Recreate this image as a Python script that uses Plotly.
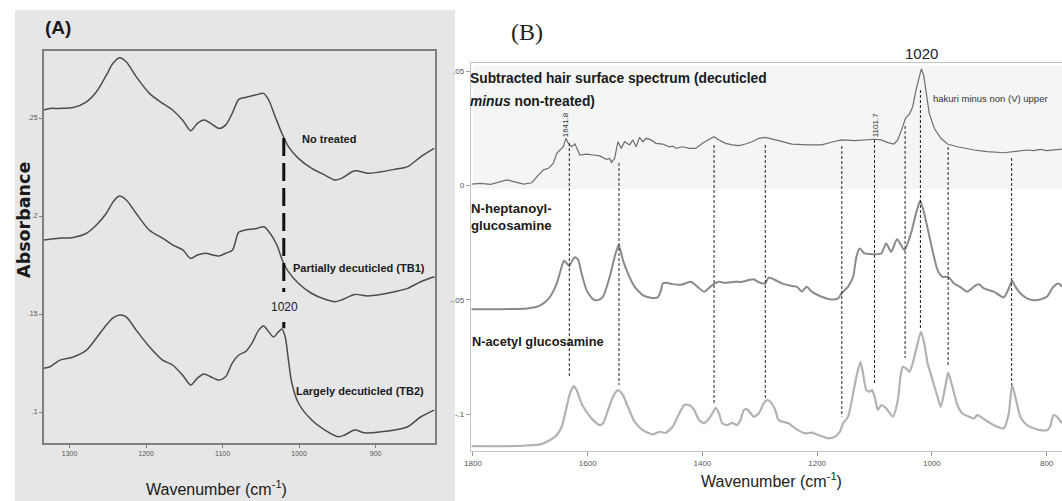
import plotly.graph_objects as go

W, H = 1062, 501

# ---------------- Panel A data (wavenumber, absorbance) ----------------
a_wn_1 = [1334, 1325.5, 1312.6, 1295.2, 1277.9, 1264.9, 1251.9, 1243.3, 1234.6, 1226.0, 1213.0, 1195.7,
          1178.4, 1165.4, 1152.4, 1141.6, 1132.9, 1124.2, 1115.6, 1104.8, 1096.1, 1087.4, 1078.8, 1070.1,
          1057.1, 1046.3, 1039.8, 1031.2, 1022.5, 1013.9, 1000.9, 983.5, 966.2, 953.2, 944.6, 927.3,
          910.0, 892.6, 875.3, 858.0, 840.7, 823.4]
a_abs_1 = [.2541, .2549, .2549, .2554, .2583, .2634, .2719, .2779, .2808, .2787, .2711, .2626,
           .2575, .2541, .2490, .2435, .2473, .2490, .2473, .2447, .2464, .2524, .2595, .2605,
           .2617, .2626, .2592, .2507, .2422, .2354, .2294, .2243, .2209, .2184, .2192, .2231,
           .2218, .2226, .2238, .2252, .2303, .2345]

a_wn_2 = [1334, 1317, 1295, 1278, 1265, 1252, 1243, 1235, 1226, 1213, 1196, 1178, 1165, 1152, 1142,
          1133, 1122, 1113, 1105, 1096, 1087, 1079, 1070, 1057, 1046, 1038, 1029, 1022, 1014, 1001,
          984, 966, 953, 945, 927, 910, 893, 875, 858, 841, 823]
a_abs_2 = [.1878, .1886, .1891, .1912, .1954, .2014, .2073, .2102, .2082, .2014, .1929, .1886, .1852,
           .1827, .1784, .1801, .1810, .1801, .1796, .1810, .1827, .1917, .1929, .1935, .1945, .1912,
           .1852, .1776, .1716, .1657, .1606, .1575, .1563, .1571, .1600, .1592, .1600, .1614, .1631,
           .1665, .1690]

a_wn_3 = [1334, 1325.5, 1312.6, 1295.2, 1277.9, 1264.9, 1251.9, 1243.3, 1234.6, 1226.0, 1213.0, 1195.7,
          1178.4, 1165.4, 1152.4, 1141.6, 1132.9, 1124.2, 1115.6, 1104.8, 1096.1, 1087.4, 1078.8, 1070.1,
          1061.5, 1052.8, 1046.3, 1039.8, 1033.3, 1026.8, 1022.5, 1018.2, 1013.9, 1009.5, 1000.9, 983.5,
          966.2, 948.9, 940.3, 927.3, 914.3, 892.6, 875.3, 858.0, 840.7, 823.4]
a_abs_3 = [.1223, .1231, .1265, .1281, .1316, .1378, .1444, .1480, .1495, .1486, .1418, .1333,
           .1265, .1240, .1189, .1138, .1173, .1194, .1180, .1163, .1180, .1250, .1291, .1308,
           .1352, .1418, .1439, .1410, .1383, .1410, .1423, .1384, .1265, .1148, .1046, .0959,
           .0908, .0874, .0883, .0908, .0894, .0899, .0908, .0925, .0976, .1010]

a_labels = ["No treated", "Partially decuticled (TB1)", "Largely decuticled (TB2)"]
a_xticks = [1300, 1200, 1100, 1000, 900]
a_yticks = [.1, .15, .2, .25]
a_yticktext = [".1", ".15", ".2", ".25"]
a_marker_wn = 1020
a_marker_segments = [(.2398, .1612), (.1459, .1428)]

# ---------------- Panel B data ----------------
b_wn_sub = [1802.3, 1786.7, 1769.4, 1752.1, 1740.5, 1729.0, 1711.7, 1697.2, 1691.5, 1685.7,
            1677.0, 1668.4, 1659.7, 1654.0, 1648.2, 1642.4, 1637.8, 1633.7, 1628.0, 1622.2,
            1613.5, 1602.0, 1590.5, 1578.9, 1567.4, 1561.6, 1558.7, 1553.0, 1547.2, 1541.4,
            1535.6, 1527.0, 1521.2, 1515.4, 1509.7, 1503.9, 1498.1, 1489.5, 1480.8, 1469.2,
            1457.7, 1451.9, 1446.2, 1434.6, 1423.1, 1411.5, 1400.0, 1388.4, 1379.8, 1371.1,
            1359.6, 1348.0, 1336.5, 1324.9, 1313.4, 1301.9,
            1290.3, 1267.2, 1244.1, 1215.3, 1192.2, 1171.9, 1157.5, 1134.5, 1117.1, 1099.8,
            1088.3, 1076.7, 1066.3, 1059.4, 1050.8, 1046.1, 1039.2, 1033.4, 1027.7, 1021.9,
            1018.4, 1014.4, 1010.4, 1004.6, 995.9, 984.4, 972.8, 955.5, 926.7, 903.6,
            874.7, 851.6, 834.3, 822.8, 811.2, 799.7, 785.2, 773.7]
b_abs_sub = [.0006, .0009, .0005, .0017, .0024, .0017, .0006, .0012, .0031, .0046,
             .0068, .0075, .0097, .0140, .0155, .0169, .0206, .0184, .0169, .0181,
             .0133, .0137, .0133, .0129, .0114, .0118, .0101, .0118, .0191, .0162,
             .0191, .0177, .0199, .0169, .0210, .0191, .0206, .0199, .0184, .0181,
             .0169, .0172, .0162, .0169, .0162, .0162, .0184, .0202, .0213, .0199,
             .0184, .0177, .0174, .0181, .0191, .0206,
             .0210, .0196, .0181, .0177, .0177, .0191, .0199, .0196, .0199, .0202,
             .0199, .0187, .0181, .0199, .0257, .0293, .0312, .0344, .0417, .0483,
             .0509, .0483, .0417, .0315, .0250, .0206, .0181, .0169, .0155, .0148,
             .0143, .0148, .0155, .0152, .0158, .0152, .0155, .0159]

b_wn_hep = [1802.3, 1763.6, 1734.8, 1705.9, 1688.6, 1677.0, 1665.5, 1653.9, 1645.3, 1641.2,
            1636.6, 1632.0, 1628.0, 1622.2, 1616.4, 1610.7, 1602.0, 1590.5, 1581.8, 1573.2,
            1561.6, 1552.9, 1546.0, 1538.5, 1529.9, 1518.3, 1503.9, 1492.3, 1477.9, 1472.1,
            1469.2, 1463.5, 1452.0, 1437.6, 1420.2, 1408.7, 1397.2, 1382.7, 1371.2, 1362.5,
            1342.3, 1330.7, 1319.2, 1310.5, 1301.8, 1290.3, 1284.5, 1273.0, 1261.4, 1244.1,
            1235.5, 1226.8, 1218.2, 1209.5, 1192.2, 1174.9, 1163.3, 1157.5, 1146.0, 1137.3,
            1131.6, 1125.8, 1117.1, 1099.8, 1088.3, 1079.7, 1071.0, 1060.6, 1048.0, 1036.4,
            1027.7, 1020.3, 1013.3, 1001.7, 990.2, 981.5, 971.7, 961.3, 949.7, 938.2,
            926.7, 918.0, 909.3, 900.7, 892.0, 874.7, 866.0, 860.3, 854.5, 845.8,
            834.3, 822.8, 811.2, 799.7, 788.1, 779.5, 773.1]
b_abs_hep = [-.0541, -.0541, -.0540, -.0537, -.0530, -.0515, -.0486, -.0428, -.0355, -.0329,
             -.0340, -.0352, -.0333, -.0314, -.0326, -.0384, -.0457, -.0498, -.0501, -.0486,
             -.0399, -.0311, -.0260, -.0326, -.0384, -.0442, -.0479, -.0489, -.0489, -.0457,
             -.0428, -.0425, -.0431, -.0434, -.0421, -.0442, -.0464, -.0435, -.0421, -.0425,
             -.0421, -.0421, -.0413, -.0410, -.0423, -.0428, -.0402, -.0413, -.0428, -.0439,
             -.0442, -.0464, -.0442, -.0464, -.0486, -.0498, -.0493, -.0471, -.0442, -.0399,
             -.0311, -.0275, -.0297, -.0300, -.0297, -.0253, -.0290, -.0235, -.0282, -.0209,
             -.0122, -.0067, -.0122, -.0253, -.0369, -.0399, -.0399, -.0428, -.0445, -.0464,
             -.0442, -.0432, -.0450, -.0457, -.0464, -.0489, -.0450, -.0416, -.0442, -.0471,
             -.0493, -.0501, -.0498, -.0486, -.0442, -.0428, -.0442]

b_wn_ace = [1802.3, 1734.8, 1705.9, 1682.8, 1665.5, 1653.9, 1645.3, 1636.6, 1630.9, 1623.9,
            1619.3, 1610.7, 1602.0, 1590.5, 1578.9, 1573.2, 1564.5, 1555.8, 1547.2, 1538.5,
            1529.9, 1518.3, 1503.9, 1486.6, 1475.0, 1463.5, 1451.9, 1440.4, 1431.7, 1423.1,
            1414.4, 1405.8, 1397.1, 1388.4, 1382.7, 1376.9, 1371.1, 1365.4, 1356.7, 1348.0,
            1339.4, 1333.6, 1327.8, 1322.0, 1310.5, 1301.8, 1293.2, 1287.4, 1281.6, 1273.0,
            1267.2, 1249.9, 1238.3, 1221.0, 1209.5, 1198.0, 1180.6, 1169.1, 1160.4, 1154.7,
            1146.0, 1137.3, 1131.6, 1124.6, 1120.0, 1114.3, 1108.5, 1104.4, 1099.8, 1094.1,
            1088.3, 1079.6, 1068.1, 1059.4, 1054.8, 1050.8, 1045.0, 1039.2, 1033.4, 1027.7,
            1019.0, 1013.2, 1007.5, 998.8, 990.2, 984.4, 975.7, 971.7, 964.2, 955.5,
            946.9, 935.3, 926.7, 920.9, 915.1, 906.5, 892.0, 874.7, 866.0, 860.3,
            854.5, 845.8, 834.3, 822.8, 811.2, 799.7, 794.0, 788.1, 782.4, 773.1]
b_abs_ace = [-.1139, -.1139, -.1136, -.1131, -.1112, -.1090, -.1054, -.0967, -.0908, -.0876,
             -.0894, -.0952, -.0989, -.1025, -.1047, -.1039, -.0981, -.0923, -.0894, -.0916,
             -.0967, -.1032, -.1069, -.1088, -.1076, -.1080, -.1054, -.0996, -.0959, -.0959,
             -.0981, -.1025, -.1039, -.1018, -.0996, -.0971, -.0996, -.1039, -.1047, -.1037,
             -.1047, -.1025, -.0981, -.0978, -.1010, -.0996, -.0952, -.0938, -.0945, -.0981,
             -.1025, -.1039, -.1061, -.1083, -.1080, -.1090, -.1105, -.1098, -.1076, -.1039,
             -.1010, -.0908, -.0836, -.0770, -.0821, -.0894, -.0901, -.0894, -.0923, -.0981,
             -.0959, -.0974, -.1010, -.0938, -.0836, -.0792, -.0799, -.0814, -.0777, -.0719,
             -.0639, -.0690, -.0777, -.0850, -.0923, -.0967, -.0865, -.0818, -.0879, -.0959,
             -.0996, -.1010, -.1018, -.1003, -.1010, -.1025, -.1047, -.1061, -.0996, -.0872,
             -.0923, -.1010, -.1047, -.1061, -.1069, -.1069, -.1054, -.1003, -.1010, -.1039]

b_marker_wn = [1632, 1545.4, 1379.7, 1290.4, 1157, 1100, 1046.7, 1020, 971.7, 861]
b_marker_top = [.0185, .0098, .0177, .0177, .0172, .0199, .0260, .0417, .0168, .0120]
b_marker_bottom = [-.0837, -.0872, -.0952, -.0938, -.1010, -.0863, -.0754, -.0623, -.0792, -.0872]
b_peak_labels = ["1641.8", "1101.7"]
b_xticks = [1800, 1600, 1400, 1200, 1000, 800]
b_yticks = [.05, 0, -.05, -.1]
b_yticktext = [".05", "0", "-.05", "-.1"]


def P(px, py):
    return px / W, 1 - py / H


NARROW = "Liberation Sans Narrow, Liberation Sans, Arial, sans-serif"
SANS = "Liberation Sans, Arial, sans-serif"

fig = go.Figure()

# Panel A traces
for xs, ys in [(a_wn_1, a_abs_1), (a_wn_2, a_abs_2), (a_wn_3, a_abs_3)]:
    fig.add_trace(go.Scatter(x=xs, y=ys, mode="lines", xaxis="x", yaxis="y",
                             line=dict(color="#4c4c4c", width=1.5, shape="spline", smoothing=0.8),
                             hoverinfo="skip"))

# Panel B traces
fig.add_trace(go.Scatter(x=b_wn_sub, y=b_abs_sub, mode="lines", xaxis="x2", yaxis="y2",
                         line=dict(color="#6e6e6e", width=1.2), hoverinfo="skip"))
fig.add_trace(go.Scatter(x=b_wn_hep, y=b_abs_hep, mode="lines", xaxis="x2", yaxis="y2",
                         line=dict(color="#8a8a8a", width=2, shape="spline", smoothing=0.6),
                         hoverinfo="skip"))
fig.add_trace(go.Scatter(x=b_wn_ace, y=b_abs_ace, mode="lines", xaxis="x2", yaxis="y2",
                         line=dict(color="#b2b2b2", width=2.2, shape="spline", smoothing=0.6),
                         hoverinfo="skip"))

shapes = []
# grey background of panel A
x0, _ = P(8, 501)
x1, y1 = P(451, 10)
shapes.append(dict(type="rect", xref="paper", yref="paper", x0=x0, x1=x1, y0=0, y1=y1,
                   fillcolor="#e6e6e6", line=dict(width=0), layer="below"))
# shaded band in panel B
shapes.append(dict(type="rect", xref="x2", yref="y2", x0=1800, x1=773.2, y0=-0.0015, y1=0.0522,
                   fillcolor="#f3f6f5", line=dict(width=0), layer="below"))
# dashed 1020 marker in panel A
for top, bot in a_marker_segments:
    shapes.append(dict(type="line", xref="x", yref="y", x0=a_marker_wn, x1=a_marker_wn, y0=top, y1=bot,
                       line=dict(color="#111111", width=3, dash="18px,7px")))
# dashed markers in panel B
for wn, top, bot in zip(b_marker_wn, b_marker_top, b_marker_bottom):
    shapes.append(dict(type="line", xref="x2", yref="y2", x0=wn, x1=wn, y0=top, y1=bot,
                       line=dict(color="#222222", width=1, dash="3px,2px")))

ann = []


def add(text, px, py, size, family, bold=False, color="#1a1a1a", xanchor="center", angle=0):
    x, y = P(px, py)
    t = "<b>" + text + "</b>" if bold else text
    ann.append(dict(text=t, x=x, y=y, xref="paper", yref="paper", showarrow=False,
                    xanchor=xanchor, yanchor="middle", textangle=angle, borderpad=0,
                    font=dict(size=size, family=family, color=color)))


# Panel A texts
add("(A)", 51, 27.5, 19, NARROW, bold=True)
add("Absorbance", 17, 220, 17.5, "DejaVu Sans", bold=True, angle=-90)
add("Wavenumber (cm<sup>-1</sup>)", 211, 488, 16, NARROW)
add(a_labels[0], 324, 139, 11, NARROW, bold=True)
add(a_labels[1], 354, 268, 11, NARROW, bold=True)
add("1020", 279, 307, 12, NARROW)
add(a_labels[2], 355, 391, 11, NARROW, bold=True)

# Panel B texts
add("(B)", 523.5, 32, 24, "Liberation Serif, DejaVu Serif, serif", color="#222")
add("1020", 921, 54, 15, SANS, color="#222")
add("Subtracted hair surface spectrum (decuticled", 465, 78, 13.8, SANS, bold=True, xanchor="left")
add("<i>minus</i> non-treated)", 465, 101, 13.8, SANS, bold=True, xanchor="left")
add("hakuri minus non (V) upper", 931, 98.5, 9.5, SANS, color="#333", xanchor="left")
add(b_peak_labels[0], 563, 125, 8, SANS, color="#333", angle=-90)
add(b_peak_labels[1], 875, 125, 8, SANS, color="#333", angle=-90)
add("N-heptanoyl-", 466, 208, 13.2, SANS, bold=True, xanchor="left")
add("glucosamine", 466, 226, 13.2, SANS, bold=True, xanchor="left")
add("N-acetyl glucosamine", 467, 341, 12.8, SANS, bold=True, xanchor="left")
add("Wavenumber (cm<sup>-1</sup>)", 770, 480, 16, SANS, color="#222")

fig.update_layout(
    width=W, height=H, margin=dict(l=0, r=0, t=0, b=0),
    paper_bgcolor="white", plot_bgcolor="rgba(0,0,0,0)", showlegend=False,
    shapes=shapes, annotations=ann,
    xaxis=dict(domain=[37 / W, 431 / W], range=[1333.8, 822.1], anchor="y",
               showline=True, mirror=True, linecolor="#7f7f7f", linewidth=1.5,
               ticks="outside", ticklen=3, tickcolor="#7f7f7f", tickvals=a_xticks,
               tickfont=dict(size=7, color="#555", family=NARROW),
               showgrid=False, zeroline=False),
    yaxis=dict(domain=[1 - 443 / H, 1 - 51 / H], range=[.0842, .2842], anchor="x",
               showline=True, mirror=True, linecolor="#7f7f7f", linewidth=1.5,
               ticks="outside", ticklen=3, tickcolor="#7f7f7f", tickvals=a_yticks,
               ticktext=a_yticktext, tickfont=dict(size=7, color="#555", family=NARROW),
               showgrid=False, zeroline=False),
    xaxis2=dict(domain=[467 / W, 1], range=[1803.5, 773.2], anchor="y2",
                showline=True, mirror=True, linecolor="#c4c4c4", linewidth=1.2,
                ticks="outside", ticklen=4, tickcolor="#999", tickvals=b_xticks,
                tickfont=dict(size=8, color="#555", family=SANS),
                showgrid=False, zeroline=False),
    yaxis2=dict(domain=[1 - 451 / H, 1 - 63 / H], range=[-.116, .0535], anchor="x2",
                showline=True, linecolor="#c4c4c4", linewidth=1.2,
                ticks="outside", ticklen=4, tickcolor="#999", tickvals=b_yticks,
                ticktext=b_yticktext, tickfont=dict(size=8, color="#555", family=SANS),
                showgrid=False, zeroline=False),
)

fig.write_html("out.html")
